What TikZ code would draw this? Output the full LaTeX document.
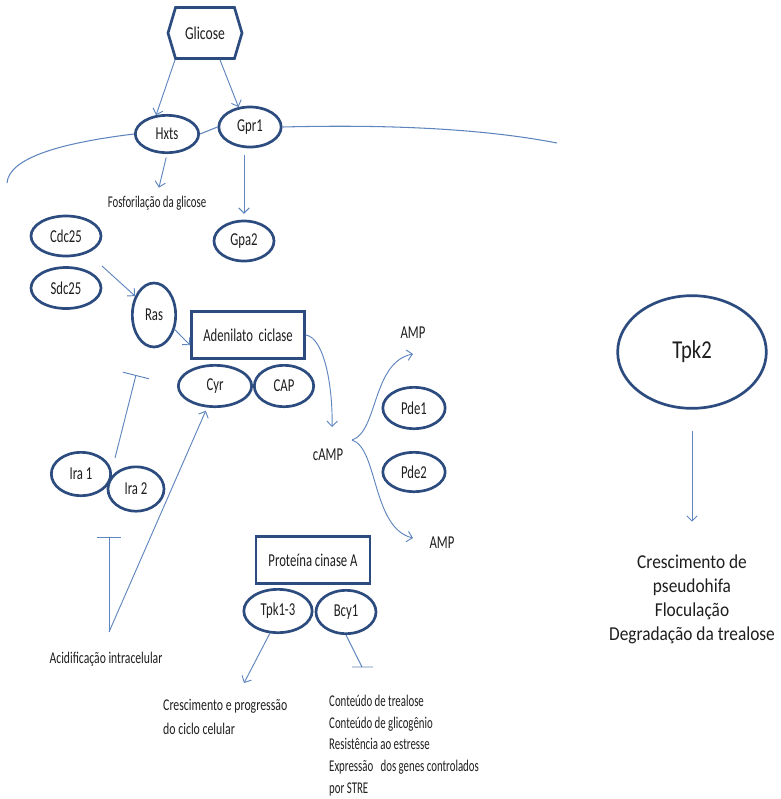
\documentclass[tikz,border=0pt]{standalone}
\usepackage{fontspec}
\setmainfont{Carlito}
\usepackage{graphicx}
\usepackage{tikz}
\usetikzlibrary{shapes,shapes.symbols,arrows.meta}
\definecolor{borda}{RGB}{44,76,128}
\definecolor{seta}{RGB}{95,133,190}
\definecolor{texto}{RGB}{30,30,30}
\tikzstyle{proteina}=[ellipse,draw=borda,line width=2.3pt,inner sep=0pt,text=texto,font=\fontsize{15.5}{17}\selectfont]
\tikzstyle{caixa}=[rectangle,draw=borda,line width=2.1pt,inner sep=0pt,text=texto,font=\fontsize{15.5}{17}\selectfont]
\tikzstyle{glicose}=[signal,signal to=west and east,signal pointer angle=147,draw=borda,line width=2.3pt,inner sep=0pt,minimum width=2.22cm,minimum height=1.53cm,text=texto,font=\fontsize{15.5}{17}\selectfont]
\tikzstyle{liga}=[draw=seta,line width=0.8pt,-{Straight Barb[length=4.5pt,width=9pt]}]
\tikzstyle{inibe}=[draw=seta,line width=0.8pt]
\tikzstyle{membrana}=[draw=seta,line width=0.9pt]
\tikzstyle{rotulo}=[text=texto,inner sep=0pt,font=\fontsize{15.5}{17}\selectfont]
% texto estreito, como no original
\newcommand{\estreito}[2]{\scalebox{#1}[1]{#2}}
\newcommand{\elipse}[6]{
  \node[proteina,minimum width=#5cm,minimum height=#6cm] (#1) at (#2, #3) {\estreito{0.7}{#4}};
}

\begin{document}
\begin{tikzpicture}[x=0.03cm,y=-0.03cm]
\useasboundingbox (0,0) rectangle (781,799);
% receptores e membrana
\node[glicose] (glic) at (205,33) {\estreito{0.75}{Glicose}};
\elipse{hxts}{167}{134}{Hxts}{1.9}{1.12}
\elipse{gpr}{250}{127}{Gpr1}{1.87}{1.2}
\elipse{gpa}{244}{241}{Gpa2}{1.8}{1.2}
  \draw[membrana]
    (7,183) .. controls (9,158) and (60,143) .. (hxts.west);
  \draw[membrana] (hxts.east) -- (gpr.west);
  \draw[membrana]
    (gpr.east) .. controls (400,124) and (490,130) .. (557,143);
% via Ras
\elipse{cdc}{66}{236}{Cdc25}{2.1}{1.2}
\elipse{sdc}{66}{288}{Sdc25}{2.1}{1.23}
\elipse{ras}{154}{315}{Ras}{1.3}{1.92}
\node[caixa,minimum width=3.4cm,minimum height=1.42cm] (adc) at (248,335) {\estreito{0.7}{Adenilato\ \ ciclase}};
\elipse{cyr}{215}{386}{Cyr}{2.2}{1.24}
\elipse{cap}{284}{386}{CAP}{1.78}{1.24}
\elipse{ira1}{81}{474}{Ira 1}{1.78}{1.3}
\elipse{ira2}{136}{489}{Ira 2}{1.68}{1.33}
% cAMP
\elipse{pde1}{414}{408}{Pde1}{1.87}{1.24}
\elipse{pde2}{414}{472}{Pde2}{1.87}{1.18}
\node[caixa,minimum width=3.43cm,minimum height=1.42cm] (pka) at (313,560) {\estreito{0.7}{Proteína cinase A}};
\elipse{tpk}{278}{611}{Tpk1-3}{2.05}{1.3}
\elipse{bcy}{346}{612}{Bcy1}{1.8}{1.3}
\node[proteina,minimum width=4.46cm,minimum height=3.38cm,font=\fontsize{22}{24}\selectfont] (tpkdois) at (692,352) {\estreito{0.8}{Tpk2}};
% textos
\node[rotulo,font=\fontsize{14}{16}\selectfont] (fosf) at (157,203) {\estreito{0.66}{Fosforilação da glicose}};
\node[rotulo] (camp) at (328,455) {\estreito{0.7}{cAMP}};
\node[rotulo] (amp1) at (413,333) {\estreito{0.7}{AMP}};
\node[rotulo] (amp2) at (442,543) {\estreito{0.7}{AMP}};
\node[rotulo,font=\fontsize{14}{16}\selectfont] (acid) at (106,659) {\estreito{0.71}{Acidificação intracelular}};
\node[rotulo,anchor=north west,font=\fontsize{14}{20}\selectfont] (cresc) at (163,694)
  {\estreito{0.72}{\begin{tabular}{@{}l@{}}Crescimento e progressão\\do ciclo celular\end{tabular}}};
\node[rotulo,anchor=north west,font=\fontsize{14}{18.5}\selectfont] (cont) at (329,691)
  {\estreito{0.66}{\begin{tabular}{@{}l@{}}Conteúdo de trealose\\Conteúdo de glicogênio\\Resistência ao estresse\\Expressão\ \ \ dos genes controlados\\por STRE\end{tabular}}};
\node[rotulo,anchor=north,font=\fontsize{16.8}{20.5}\selectfont] (efeitos) at (692,551)
  {\estreito{0.88}{\begin{tabular}{@{}c@{}}Crescimento de\\pseudohifa\\Floculação\\Degradação da trealose\end{tabular}}};
% pontas livres
\coordinate (cdcseta) at (102,266);
\coordinate (campponta) at (332,427);
\coordinate (ramo) at (352,440);
\coordinate (amp1ponta) at (413,354);
\coordinate (amp2ponta) at (413,538);
\coordinate (irabase) at (115,458);
\coordinate (irabar) at (136,375);
\coordinate (acidtopo) at (109,632);
\coordinate (acidbar) at (109,537);
\coordinate (crescponta) at (244,683);
\coordinate (bcybar) at (362,667);
% setas
\draw[liga] ([xshift=-0.9cm]glic.south) -- (hxts.120);
\draw[liga] ([xshift=0.45cm]glic.south) -- (gpr.120);
\draw[liga,shorten <=3pt,shorten >=7pt] (hxts.south) -- (fosf.north);
\draw[liga,shorten <=6pt,shorten >=5pt] (gpa.north |- gpr.south) -- (gpa.north);
\draw[liga] (cdcseta) -- (ras.135);
\draw[liga] (ras.-35) -- (adc.190);
\draw[liga] (adc.east) .. controls (325,338) and (333,390) .. (campponta);
\draw[liga] (ramo) .. controls (378,432) and (372,362) .. (amp1ponta);
\draw[liga] (ramo) .. controls (378,448) and (372,528) .. (amp2ponta);
\draw[inibe,-{Bar[width=23pt]}] (irabase) -- (irabar);
\draw[inibe,-{Bar[width=20pt]}] (acidtopo) -- (acidbar);
\draw[liga,shorten >=3pt] (acidtopo) -- (cyr.250);
\draw[liga] (tpk.-110) -- (crescponta);
\draw[inibe] (bcy.south) -- (bcybar) (bcybar) ++(-10,0) -- ++(21,0);
\draw[liga,shorten <=18pt,shorten >=25pt] (tpkdois.south) -- (efeitos.north);
\end{tikzpicture}
\end{document}
